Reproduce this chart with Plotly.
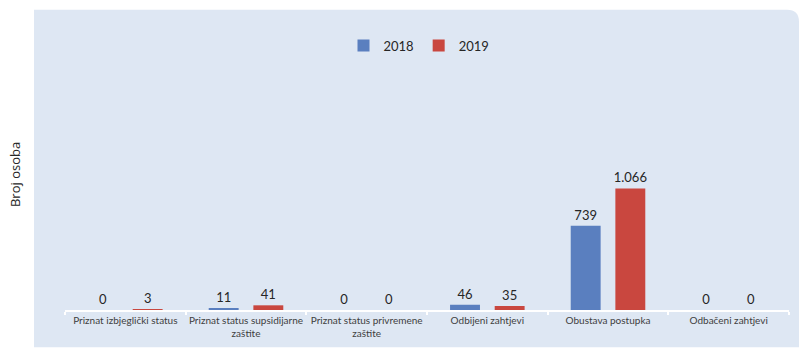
import plotly.graph_objects as go

categories = [
    "Priznat izbjeglički status",
    "Priznat status supsidijarne<br>zaštite",
    "Priznat status privremene<br>zaštite",
    "Odbijeni zahtjevi",
    "Obustava postupka",
    "Odbačeni zahtjevi",
]
values_2018 = [0, 11, 0, 46, 739, 0]
values_2019 = [3, 41, 0, 35, 1066, 0]
series_names = ["2018", "2019"]
colors = ["#5a7fbf", "#c9473f"]


def fmt(v):
    return f"{v:,}".replace(",", ".")


W, H = 799, 348
L, R, T, B = 65, 10, 58.5, 37.5
pw, ph = W - L - R, H - T - B


def px_x(p):
    return (p - L) / pw


def px_y(p):
    return (H - B - p) / ph


fig = go.Figure()
for name, vals, col in zip(series_names, [values_2018, values_2019], colors):
    fig.add_trace(go.Bar(
        name=name, x=categories, y=vals, marker=dict(color=col, line=dict(width=0)),
        text=[fmt(v) for v in vals], textposition="outside", cliponaxis=False,
        constraintext="none",
        textfont=dict(family="Lato", size=13, color="#262626"),
    ))

# panel background with rounded top-right corner
x0, x1, y0, y1 = px_x(34), px_x(799), px_y(348), px_y(9)
rx, ry = 12 / pw, 12 / ph
path = (f"M {x0},{y0} L {x0},{y1} L {x1 - rx},{y1} "
        f"Q {x1},{y1} {x1},{y1 - ry} L {x1},{y0} Z")
fig.add_shape(type="path", path=path, xref="paper", yref="paper",
              fillcolor="#dee7f3", line=dict(width=0), layer="below")

fig.add_annotation(text="Broj osoba", x=px_x(15), y=px_y(175), xref="paper", yref="paper",
                   xanchor="center", yanchor="middle",
                   textangle=-90, showarrow=False,
                   font=dict(family="Open Sans", size=13, color="#262626"))

fig.update_layout(
    width=W, height=H,
    margin=dict(l=L, r=R, t=T, b=B, autoexpand=False),
    paper_bgcolor="white", plot_bgcolor="rgba(0,0,0,0)",
    barmode="group", bargap=0.26, bargroupgap=0.33,
    showlegend=True,
    legend=dict(orientation="h", x=px_x(419), y=px_y(45), xanchor="center", yanchor="middle",
                bgcolor="rgba(0,0,0,0)", font=dict(family="Lato", size=13, color="#262626"),
                itemwidth=30, traceorder="normal"),
    xaxis=dict(showline=True, linecolor="white", linewidth=1.5, ticks="outside",
               tickson="boundaries", tickcolor="white", ticklen=3, tickwidth=1.5,
               tickangle=0, automargin=False,
               tickfont=dict(family="Lato", size=10, color="#404040"), showgrid=False),
    yaxis=dict(range=[0, 2200], visible=False, showgrid=False, zeroline=False,
               automargin=False),
)

fig.write_html("out.html", config={"displayModeBar": False},
               post_script="document.body.style.margin='0';document.body.style.overflow='hidden';")
